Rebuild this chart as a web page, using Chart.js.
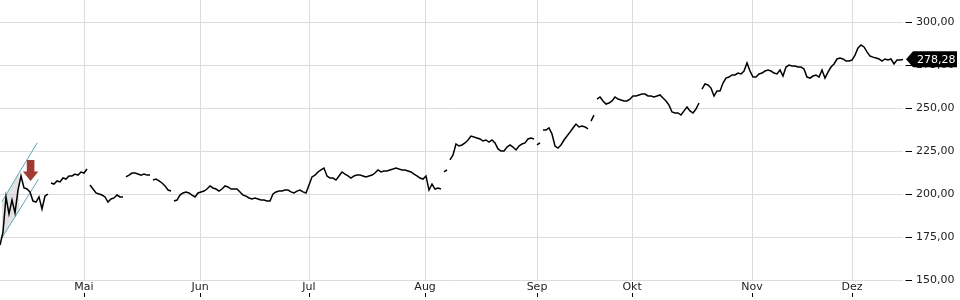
<!DOCTYPE html>
<html lang="de">
<head>
<meta charset="UTF-8">
<title>Kursverlauf</title>
<script src="https://cdn.jsdelivr.net/npm/chart.js@4.4.1/dist/chart.umd.min.js"></script>
<style>
  body { margin: 0; background: #fff; }
  canvas { display: block; }
</style>
</head>
<body>
<canvas id="kurs" width="960" height="300"></canvas>
<script>
// zusammenhaengende Handelsabschnitte, dazwischen Luecken im Linienzug
const sessions = [
    [170.3, 177.9, 198.3, 188.4, 196.5, 189.0, 202.3, 210.5, 203.5, 202.9, 201.2, 195.9, 195.3, 198.3, 191.3, 198.8, 200.0],
    [206.4, 205.8, 207.6, 207.0, 209.3, 208.7, 210.5, 210.5, 211.6, 211.0, 212.8, 212.2, 214.5],
    [205.2, 202.9, 200.6, 200.0, 199.4, 198.3, 195.3, 197.1, 197.7, 199.4, 198.3, 198.3],
    [209.9, 211.0, 212.2, 212.2, 211.6, 211.0, 211.6, 211.0, 211.0],
    [208.1, 208.7, 207.6, 206.4, 204.7, 202.3, 201.7],
    [195.9, 196.5, 199.4, 200.6, 201.2, 200.6, 199.4, 198.3, 200.6, 201.2,
     201.7, 202.9, 204.7, 203.5, 202.9, 201.7, 202.9, 204.7, 204.1, 202.9,
     202.9, 202.9, 201.2, 199.4, 198.8, 197.7, 197.1, 197.7, 197.1, 196.5,
     196.5, 195.9, 195.9, 200.0, 201.2, 201.7, 201.7, 202.3, 202.3, 201.2,
     200.6, 201.7, 202.3, 201.2, 200.6, 205.2, 209.9, 211.0, 212.8, 214.0,
     215.1, 210.5, 209.3, 209.3, 208.1, 210.5, 212.8, 211.6, 210.5, 209.3,
     210.5, 211.0, 211.0, 210.5, 209.9, 210.5, 211.0, 212.2, 214.0, 212.8,
     213.4, 213.4, 214.0, 214.5, 215.1, 214.5, 214.0, 214.0, 213.4, 212.8,
     211.6, 210.5, 209.3, 208.7, 210.5, 202.3, 205.8, 202.9, 203.5, 202.9],
    [212.8, 214.0],
    [219.8, 222.7, 229.1, 227.9, 228.5, 229.7, 231.4, 233.7, 233.1, 232.6,
     232.0, 230.8, 231.4, 230.2, 231.4, 229.7, 226.2, 225.0, 225.0, 227.3,
     228.5, 227.3, 225.6, 227.9, 229.1, 229.7, 232.0, 232.6, 232.0],
    [228.5, 229.7],
    [237.2, 237.2, 238.4, 234.9, 227.9, 226.7, 228.5, 231.4, 233.7, 236.0, 238.4, 240.7, 239.0, 239.5, 239.0, 237.8],
    [242.4, 245.9],
    [255.2, 256.4, 254.1, 252.3, 252.9, 254.1, 256.4, 255.2, 254.7, 254.1,
     254.1, 255.2, 257.0, 257.0, 257.6, 258.1, 258.1, 257.0, 257.0, 256.4,
     257.0, 257.6, 255.8, 254.1, 251.7, 247.7, 247.1, 247.1, 245.9, 248.3,
     250.6, 248.3, 247.1, 249.4, 252.9],
    [261.0, 264.0, 263.4, 261.6, 257.0, 259.9, 259.9, 264.5, 267.4, 268.0,
     269.2, 269.2, 270.3, 269.8, 271.5, 276.2, 271.5, 268.0, 268.0, 269.8,
     270.3, 271.5, 272.1, 271.5, 270.3, 269.8, 272.1, 268.6, 273.8, 275.0,
     274.4, 274.4, 273.8, 273.8, 272.7, 268.0, 267.4, 268.6, 269.2, 268.0,
     272.1, 267.4, 270.9, 273.8, 275.6, 278.5, 279.1, 278.5, 277.3, 277.3,
     277.9, 280.8, 284.9, 286.6, 285.5, 282.6, 280.2, 279.6, 279.1, 278.5,
     277.3, 278.5, 277.9, 278.5, 275.6, 277.9, 277.9, 278.28]
];

const monthNames = ['Mai', 'Jun', 'Jul', 'Aug', 'Sep', 'Okt', 'Nov', 'Dez'];
const monthPos = [28, 66.7, 103, 141.7, 179, 210.7, 250.7, 284];
const yTicks = [150, 175, 200, 225, 250, 275, 300];

// Trendkanal am Anfang + Markierung
const channelUpper = [[0.6, 195.5], [12.4, 229.8]];
const channelLower = [[0.6, 174.4], [12.8, 208.5]];
const shadeTop = [[0.6, 195.5], [6.4, 212.4]];
const shadeBottom = [[0.6, 174.4], [6.4, 190.6]];
const arrowAt = [10.2, 207.6];

const points = [];
let t = 0;
sessions.forEach((s, k) => {
    s.forEach(v => { points.push({x: t, y: v}); t++; });
    if (k < sessions.length - 1) points.push({x: t - 0.5, y: null});
});
const lastValue = sessions[sessions.length - 1].slice(-1)[0];
const toXY = arr => arr.map(p => ({x: p[0], y: p[1]}));
const fmt = v => v.toFixed(2).replace('.', ',');
const FONT = 'DejaVu Sans';

const extras = {
    id: 'extras',
    afterDatasetsDraw(chart) {
        const ctx = chart.ctx, xs = chart.scales.x, ys = chart.scales.y;
        const tx = xs.getPixelForValue(arrowAt[0]);
        const ty = ys.getPixelForValue(arrowAt[1]);
        ctx.save();
        ctx.fillStyle = '#a03c34';
        ctx.beginPath();
        ctx.moveTo(tx - 3.8, ty - 21);
        ctx.lineTo(tx + 3.8, ty - 21);
        ctx.lineTo(tx + 3.8, ty - 9.5);
        ctx.lineTo(tx + 7.8, ty - 9.5);
        ctx.lineTo(tx, ty);
        ctx.lineTo(tx - 7.8, ty - 9.5);
        ctx.lineTo(tx - 3.8, ty - 9.5);
        ctx.closePath();
        ctx.fill();
        ctx.restore();
    },
    afterDraw(chart) {
        const ctx = chart.ctx, xs = chart.scales.x, ys = chart.scales.y;
        const area = chart.chartArea;
        ctx.save();
        // kleine Striche unter den Monatsnamen
        ctx.strokeStyle = '#000';
        ctx.lineWidth = 1;
        monthPos.forEach(v => {
            const px = Math.round(xs.getPixelForValue(v)) + 0.5;
            ctx.beginPath();
            ctx.moveTo(px, area.bottom + 13);
            ctx.lineTo(px, area.bottom + 17);
            ctx.stroke();
        });
        // Schlusskurs-Etikett
        const y = ys.getPixelForValue(lastValue);
        const x0 = area.right + 3;
        ctx.fillStyle = '#000';
        ctx.beginPath();
        ctx.moveTo(x0, y);
        ctx.lineTo(x0 + 7, y - 8);
        ctx.lineTo(957, y - 8);
        ctx.lineTo(957, y + 8);
        ctx.lineTo(x0 + 7, y + 8);
        ctx.closePath();
        ctx.fill();
        ctx.fillStyle = '#fff';
        ctx.font = '11px "' + FONT + '"';
        ctx.textAlign = 'left';
        ctx.textBaseline = 'middle';
        ctx.fillText(fmt(lastValue), x0 + 11, y + 0.5);
        ctx.restore();
    }
};

const teal = '#5fa8b0';
new Chart(document.getElementById('kurs'), {
    type: 'line',
    data: {
        datasets: [
            {data: points, borderColor: '#000', borderWidth: 1.5, pointRadius: 0, spanGaps: false, order: 0},
            {data: toXY(channelUpper), borderColor: teal, borderWidth: 1, pointRadius: 0, order: 1},
            {data: toXY(channelLower), borderColor: teal, borderWidth: 1, pointRadius: 0, order: 1},
            {data: toXY(shadeTop), borderWidth: 0, pointRadius: 0, fill: false, order: 3},
            {data: toXY(shadeBottom), borderWidth: 0, pointRadius: 0, fill: '-1',
             backgroundColor: 'rgba(190,190,190,0.45)', order: 2}
        ]
    },
    options: {
        responsive: false,
        animation: false,
        devicePixelRatio: 1,
        layout: {padding: 0},
        plugins: {legend: {display: false}, tooltip: {enabled: false}},
        scales: {
            x: {
                type: 'linear',
                min: 0,
                max: 301,
                afterBuildTicks: s => { s.ticks = monthPos.map(v => ({value: v})); },
                afterFit: s => { s.height = 20; s.paddingLeft = 0; s.paddingRight = 0; },
                grid: {color: '#dcdcdc', drawTicks: false},
                border: {display: false},
                ticks: {
                    autoSkip: false, maxRotation: 0, padding: 1, color: '#222',
                    font: {family: FONT, size: 11},
                    callback: (v, i) => monthNames[i]
                }
            },
            y: {
                position: 'right',
                min: 150,
                max: 312.8,
                afterBuildTicks: s => { s.ticks = yTicks.map(v => ({value: v})); },
                afterFit: s => { s.width = 57; s.paddingTop = 0; s.paddingBottom = 0; },
                grid: {color: '#dcdcdc', tickColor: '#000', tickLength: 9, tickBorderDash: [0, 2.5, 6.5, 20]},
                border: {display: false},
                ticks: {
                    padding: 4, color: '#222',
                    font: {family: FONT, size: 11},
                    callback: v => fmt(v)
                }
            }
        }
    },
    plugins: [extras]
});
</script>
</body>
</html>
